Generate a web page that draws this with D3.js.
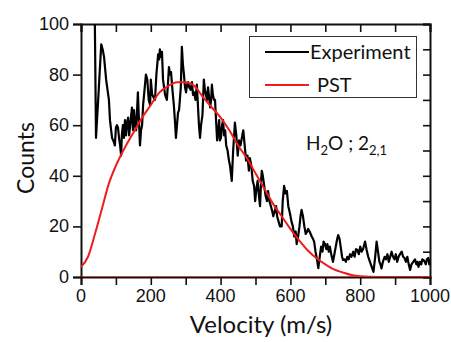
<!DOCTYPE html>
<html>
<head>
<meta charset="utf-8">
<script src="https://cdn.jsdelivr.net/npm/d3@7"></script>
<style>
  body { margin: 0; background: #fff; }
  .tick-label { font-family: "Liberation Sans", Arial, sans-serif; font-size: 18px; fill: #111; }
  .title { font-family: Lato, "Open Sans", sans-serif; fill: #111; }
</style>
</head>
<body>
<svg id="chart" width="451" height="342"></svg>
<script>
// experiment: velocity (m/s) / counts
const expVelocity = [39,43,50,58,62,66,72,76,80,83,89,95,97,100,103,106,109,112,115,117,120,123,126,129,132,135,138,141,146,149,152,155,158,163,166,169,172,175,178,182,186,190,194,198,200,204,208,212,216,221,224,226,229,232,235,238,241,246,249,252,255,258,262,266,269,272,275,278,281,286,289,292,295,298,301,304,307,310,314,318,321,324,328,332,335,338,341,344,348,352,355,358,361,364,367,370,373,375,378,381,384,387,390,393,396,398,401,404,407,410,413,416,420,424,427,432,436,441,445,449,453,457,461,465,469,473,477,481,484,488,492,496,499,502,506,510,513,516,518,521,525,529,533,536,540,544,548,551,555,559,562,566,570,575,578,582,586,590,594,599,603,607,611,615,618,622,626,629,632,636,640,644,648,651,655,658,661,665,668,672,676,680,684,688,692,695,699,703,706,710,713,717,722,726,730,734,737,741,745,748,751,755,759,763,767,771,775,780,784,788,792,796,800,804,808,812,814,818,823,828,833,838,843,847,851,855,858,861,865,870,874,878,882,886,890,894,898,902,906,910,914,919,923,927,931,935,939,943,947,952,957,961,964,967,971,975,978,981,985,988,991,995,998,1000];
const expCounts = [110,55,72,92,90,87,78,74,70,62,55,53,52,59,60,59,55,52,48,56,60,55,62,56,61,63,56,60,67,58,66,60,58,73,62,52,58,60,68,74,80,78,70,68,78,72,71,70,80,88,86,90,87,89,78,75,72,70,76,83,80,81,74,68,62,55,60,65,66,75,91,84,80,75,73,76,77,75,74,77,72,73,70,76,68,60,55,60,64,78,74,72,70,75,71,67,70,76,72,70,70,62,54,58,62,54,55,60,62,56,58,52,50,46,44,38,50,61,56,48,54,52,55,58,52,46,48,42,47,44,38,36,30,34,38,32,28,38,42,40,36,32,30,34,30,28,26,24,26,28,24,22,20,20,30,36,33,34,28,25,22,20,16,18,13,16,20,24,26.5,24,20,17,18,19,18,17,16,15,14,10,7,3.5,8,12,10,14,13,11,13,10,12,9,6,9,12,15,16.6,15,11,8,6.7,7,6,8,7,9,8,10,8,11,10.7,9,12,10,11,13,14,11,8,6,4,2,8,14,10,6,5,3.4,6,8,7,9,6,8,10,8,7,9,6,8,9,10,8,7.5,6,8,5,2.8,5,6,7,5,6,4,6,5,7,6.7,6,5,7,7.5,5,7];

// PST model curve
const pstVelocity = [0,20,40,60,80,100,125,150,175,200,225,250,275,300,325,350,375,400,425,450,475,500,525,550,575,600,625,650,675,700,725,750,775,800,850,900,1000];
const pstCounts = [4,8,17,27,37,44,51,57,63,68,73,75.5,77,77,75.5,71,67,63,58,52,47,41,35,29,24,19,14.5,10.5,7.4,5,3,1.8,0.8,0.3,0,0,0];

const xTicks = [0,100,200,300,400,500,600,700,800,900,1000];
const xLabels = [0,200,400,600,800,1000];
const yTicks = [0,20,40,60,80,100];
const yMinorTicks = [0,10,20,30,40,50,60,70,80,90,100];

const svg = d3.select('#chart'),
  margin = { top: 24, right: 21, bottom: 65, left: 81 },
  width = +svg.attr('width') - margin.left - margin.right,
  height = +svg.attr('height') - margin.top - margin.bottom;

const x = d3.scaleLinear().domain([0, 1000]).range([0, width]);
const y = d3.scaleLinear().domain([0, 100]).range([height, 0]);

const frame = svg.append('g')
  .attr('transform', `translate(${margin.left},${margin.top})`);

frame.append('clipPath').attr('id', 'clip')
  .append('rect').attr('width', width).attr('height', height);

// series
const expData = expVelocity.map((v, i) => [v, expCounts[i]]);
const pstData = pstVelocity.map((v, i) => [v, pstCounts[i]]);

const line = d3.line().x(d => x(d[0])).y(d => y(d[1]));

// axes (drawn first, the red baseline sits on the bottom one)
const axisBottom = frame.append('g').attr('transform', `translate(0,${height})`)
  .call(d3.axisBottom(x).tickValues(xTicks).tickSize(8).tickFormat(''));
const axisTop = frame.append('g')
  .call(d3.axisTop(x).tickValues(xTicks).tickSize(-8).tickFormat(''));
const axisLeft = frame.append('g')
  .call(d3.axisLeft(y).tickValues(yTicks).tickSize(8).tickFormat(''));
const axisRight = frame.append('g').attr('transform', `translate(${width},0)`)
  .call(d3.axisRight(y).tickValues(yMinorTicks).tickSize(-7).tickFormat(''));

[axisBottom, axisTop, axisLeft, axisRight].forEach(a => {
  a.select('.domain').attr('stroke', '#111').attr('stroke-width', 2);
  a.selectAll('.tick line').attr('stroke', '#111').attr('stroke-width', 1.6);
});

const plot = frame.append('g').attr('clip-path', 'url(#clip)');

plot.append('path')
  .datum([[0, 0], [1000, 0]])
  .attr('d', line)
  .attr('fill', 'none')
  .attr('stroke', '#e8171b')
  .attr('stroke-width', 1);

plot.append('path')
  .datum(expData)
  .attr('d', line)
  .attr('fill', 'none')
  .attr('stroke', '#000')
  .attr('stroke-width', 2.2)
  .attr('stroke-linejoin', 'round');

plot.append('path')
  .datum(pstData)
  .attr('d', line.curve(d3.curveMonotoneX))
  .attr('fill', 'none')
  .attr('stroke', '#ee1c1c')
  .attr('stroke-width', 2);

// tick labels
frame.append('g').selectAll('text')
  .data(xLabels).enter().append('text')
  .attr('class', 'tick-label')
  .attr('x', d => x(d))
  .attr('y', height + 25)
  .attr('text-anchor', 'middle')
  .text(d => d);

frame.append('g').selectAll('text')
  .data(yTicks).enter().append('text')
  .attr('class', 'tick-label')
  .attr('x', -12)
  .attr('y', d => y(d) + 6)
  .attr('text-anchor', 'end')
  .text(d => d);

// axis titles
svg.append('text')
  .attr('class', 'title')
  .attr('x', 261)
  .attr('y', 333)
  .attr('text-anchor', 'middle')
  .style('font-size', '24px')
  .text('Velocity (m/s)');

svg.append('text')
  .attr('class', 'title')
  .attr('transform', 'translate(34,158) rotate(-90)')
  .attr('text-anchor', 'middle')
  .style('font-size', '23px')
  .text('Counts');

// legend
const legend = svg.append('g');
legend.append('rect')
  .attr('x', 249.5).attr('y', 36.5)
  .attr('width', 167).attr('height', 61)
  .attr('fill', '#fff')
  .attr('stroke', '#333')
  .attr('stroke-width', 1);

const legendItems = [
  { label: 'Experiment', color: '#000', ly: 52, tx: 310, ty: 59 },
  { label: 'PST', color: '#ee1c1c', ly: 85, tx: 317, ty: 92 }
];
legendItems.forEach(it => {
  legend.append('line')
    .attr('x1', 265).attr('x2', 309)
    .attr('y1', it.ly).attr('y2', it.ly)
    .attr('stroke', it.color).attr('stroke-width', 2);
  legend.append('text')
    .attr('class', 'title')
    .attr('x', it.tx).attr('y', it.ty)
    .style('font-size', '20px')
    .text(it.label);
});

// annotation
const note = svg.append('text')
  .attr('class', 'title')
  .attr('x', 306).attr('y', 150)
  .style('font-size', '19px');
note.append('tspan').text('H');
note.append('tspan').attr('dy', 5).style('font-size', '13px').text('2');
note.append('tspan').attr('dy', -5).text('O ; 2');
note.append('tspan').attr('dy', 5).style('font-size', '13px').text('2,1');
</script>
</body>
</html>
